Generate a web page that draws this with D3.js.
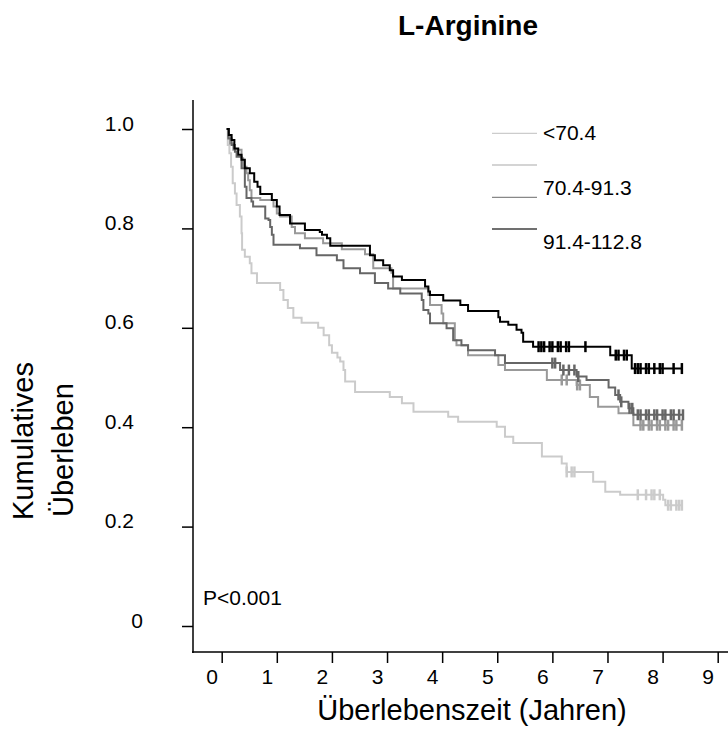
<!DOCTYPE html>
<head>
    <meta charset="utf-8">
    <style>
        body { margin: 0; background: #fff; }
        svg text { font-family: "Liberation Sans", Arial, sans-serif; fill: #000; }
    </style>
</head>
<body>
    <script src="https://d3js.org/d3.v7.min.js"></script>
    <script>

        // tick labels
        var xTicks = [0, 1, 2, 3, 4, 5, 6, 7, 8, 9];
        var yTicks = [0, 0.2, 0.4, 0.6, 0.8, 1.0];
        var yTickLabels = ["0", "0.2", "0.4", "0.6", "0.8", "1.0"];

        // legend (as printed)
        var legendNames = ["<70.4", "", "70.4-91.3", "91.4-112.8"];
        var legendColors = ["#cccccc", "#aaaaaa", "#888888", "#707070"];

        // Kaplan-Meier steps [time (years), survival after the step]
        var stepsLow = [[0.09,1],[0.11,.968],[0.14,.951],[0.17,.924],[0.20,.891],[0.24,.870],[0.27,.847],[0.33,.824],
            [0.36,.790],[0.37,.757],[0.42,.743],[0.51,.730],[0.54,.710],[0.64,.690],[1.06,.676],[1.12,.656],
            [1.2,.64],[1.3,.62],[1.45,.61],[1.75,.60],[1.85,.585],[1.95,.565],[2.0,.55],[2.1,.54],[2.15,.532],
            [2.21,.515],[2.24,.492],[2.42,.471],[3.05,.461],[3.27,.448],[3.48,.431],[4.11,.421],[4.29,.411],
            [4.99,.401],[5.14,.381],[5.29,.368],[5.81,.341],[6.17,.327],[6.26,.31],[6.74,.29],[6.96,.27],
            [7.23,.264],[8.01,.254],[8.05,.243],[8.35,.243]];
        var stepsMid = [[0.09,1],[0.12,.985],[0.15,.971],[0.21,.958],[0.36,.941],[0.39,.924],[0.45,.911],[0.48,.897],
            [0.51,.877],[0.54,.861],[0.70,.857],[0.94,.844],[1.0,.83],[1.06,.824],[1.27,.803],[1.33,.79],
            [1.51,.78],[1.84,.77],[2.18,.758],[2.60,.748],[2.75,.72],[3.08,.711],[3.11,.679],[3.75,.666],
            [3.78,.646],[3.99,.629],[4.02,.609],[4.23,.575],[4.26,.565],[4.47,.545],[5.02,.525],[5.14,.515],
            [5.90,.495],[6.44,.485],[6.68,.461],[6.83,.441],[7.2,.428],[7.47,.404],[8.35,.404]];
        var stepsHigh = [[0.09,1],[0.12,.981],[0.18,.968],[0.24,.954],[0.27,.944],[0.36,.921],[0.42,.884],[0.45,.861],
            [0.54,.854],[0.57,.844],[0.79,.82],[0.85,.817],[0.88,.803],[0.91,.787],[0.94,.767],[1.42,.760],
            [1.72,.746],[2.09,.736],[2.21,.72],[2.51,.71],[2.78,.69],[3.02,.679],[3.24,.669],[3.63,.656],
            [3.66,.636],[3.75,.629],[3.78,.609],[4.08,.599],[4.20,.575],[4.35,.565],[4.47,.555],[4.96,.545],
            [5.14,.529],[6.14,.515],[6.44,.502],[6.62,.495],[7.02,.48],[7.14,.465],[7.23,.451],[7.38,.438],
            [7.47,.425],[8.37,.425]];
        var stepsTop = [[0.09,1],[0.13,.988],[0.18,.978],[0.23,.961],[0.30,.948],[0.36,.938],[0.42,.921],[0.51,.911],
            [0.59,.894],[0.65,.884],[0.70,.869],[0.91,.857],[1.0,.844],[1.05,.827],[1.24,.81],[1.51,.797],
            [1.78,.793],[1.82,.787],[1.91,.78],[1.97,.765],[2.69,.746],[2.78,.736],[2.93,.726],[3.05,.716],
            [3.11,.703],[3.27,.696],[3.69,.683],[3.75,.673],[3.78,.666],[4.02,.655],[4.33,.646],[4.47,.634],
            [5.02,.621],[5.05,.612],[5.2,.606],[5.35,.596],[5.44,.59],[5.47,.572],[5.65,.562],[7.05,.545],
            [7.44,.518],[8.35,.518]];

        // censored times
        var censLow = [6.26, 6.35, 6.4, 7.55, 7.7, 7.8, 7.85, 7.95, 8.1, 8.15, 8.25, 8.3, 8.35];
        var censMid = [6.17, 6.26, 6.45, 6.5, 7.6, 7.65, 7.75, 7.8, 7.9, 7.95, 8.05, 8.1, 8.2, 8.25, 8.35];
        var censHigh = [6.0, 6.05, 6.2, 6.3, 6.4, 6.47, 7.2, 7.25, 7.4, 7.45, 7.55, 7.6, 7.7, 7.75, 7.85, 7.9,
            8.0, 8.05, 8.15, 8.2, 8.3, 8.37];
        var censTop = [5.75, 5.8, 5.85, 5.95, 6.0, 6.1, 6.15, 6.25, 6.3, 6.6, 7.15, 7.2, 7.3, 7.35,
            7.5, 7.55, 7.6, 7.7, 7.75, 7.85, 7.95, 8.0, 8.2, 8.35];

        var curves = [
            {steps: stepsLow, cens: censLow, color: "#cbcbcb"},
            {steps: stepsMid, cens: censMid, color: "#999999"},
            {steps: stepsHigh, cens: censHigh, color: "#666666"},
            {steps: stepsTop, cens: censTop, color: "#000000"}
        ];

        var width = 728, height = 729;

        var svg = d3.select("body").append("svg")
            .attr("width", width)
            .attr("height", height);

        // scales
        var x = d3.scaleLinear().domain([0, 9]).range([221.7, 717.7]);
        var y = d3.scaleLinear().domain([0, 1]).range([626, 129]);

        // title
        svg.append("text")
            .attr("x", 468).attr("y", 35)
            .attr("text-anchor", "middle")
            .style("font-size", "28px").style("font-weight", "bold")
            .text("L-Arginine");

        // y axis
        var gy = svg.append("g")
            .attr("transform", "translate(193,0)")
            .call(d3.axisLeft(y).tickValues(yTicks).tickSize(11)
                .tickFormat(function(d, i) { return yTickLabels[i]; }));
        gy.select(".domain").remove();
        gy.selectAll("line").attr("stroke", "#000").attr("stroke-width", 1.5);
        gy.selectAll("text")
            .attr("x", function(d) { return d === 0 ? -50 : -59; })
            .attr("dy", "0.05em")
            .style("font-size", "21px");
        svg.append("line")
            .attr("x1", 193).attr("x2", 193).attr("y1", 100).attr("y2", 653)
            .attr("stroke", "#000").attr("stroke-width", 1.5);

        // x axis
        var gx = svg.append("g")
            .attr("transform", "translate(0,652)")
            .call(d3.axisBottom(x).tickValues(xTicks).tickSize(11));
        gx.select(".domain").remove();
        gx.selectAll("line").attr("stroke", "#000").attr("stroke-width", 1.5);
        gx.selectAll("text")
            .attr("x", -10).attr("y", 32).attr("dy", null)
            .style("font-size", "21px");
        svg.append("line")
            .attr("x1", 192).attr("x2", 728).attr("y1", 652).attr("y2", 652)
            .attr("stroke", "#000").attr("stroke-width", 1.5);

        // axis titles
        svg.append("text")
            .attr("x", 472).attr("y", 720)
            .attr("text-anchor", "middle")
            .style("font-size", "29px")
            .text("Überlebenszeit (Jahren)");
        svg.append("text")
            .attr("transform", "translate(33,520) rotate(-90)")
            .style("font-size", "29px")
            .text("Kumulatives");
        svg.append("text")
            .attr("transform", "translate(73,517) rotate(-90)")
            .style("font-size", "29px")
            .text("Überleben");

        // survival lines
        var line = d3.line()
            .curve(d3.curveStepAfter)
            .x(function(d) { return x(d[0]); })
            .y(function(d) { return y(d[1]); });

        function survAt(steps, t) {
            var s = steps[0][1];
            steps.forEach(function(p) { if (p[0] <= t) s = p[1]; });
            return s;
        }

        curves.forEach(function(c) {
            svg.append("path")
                .datum(c.steps)
                .attr("fill", "none")
                .attr("stroke", c.color)
                .attr("stroke-width", 2)
                .attr("d", line);

            svg.selectAll(null)
                .data(c.cens)
                .enter().append("line")
                .attr("x1", function(d) { return x(d); })
                .attr("x2", function(d) { return x(d); })
                .attr("y1", function(d) { return y(survAt(c.steps, d)) - 5.5; })
                .attr("y2", function(d) { return y(survAt(c.steps, d)) + 5.5; })
                .attr("stroke", c.color)
                .attr("stroke-width", 2.5);
        });

        // legend
        var legendLineY = [133.3, 165, 197.3, 229];
        var legendTextY = [140, null, 194.5, 249];
        legendNames.forEach(function(name, i) {
            svg.append("line")
                .attr("x1", 492).attr("x2", 537)
                .attr("y1", legendLineY[i]).attr("y2", legendLineY[i])
                .attr("stroke", legendColors[i])
                .attr("stroke-width", i === 3 ? 2 : 1.2);
            if (name) {
                svg.append("text")
                    .attr("x", 543).attr("y", legendTextY[i])
                    .style("font-size", "21px")
                    .text(name);
            }
        });

        // p-value
        svg.append("text")
            .attr("x", 203).attr("y", 605)
            .style("font-size", "21px")
            .text("P<0.001");

    </script>
</body>
